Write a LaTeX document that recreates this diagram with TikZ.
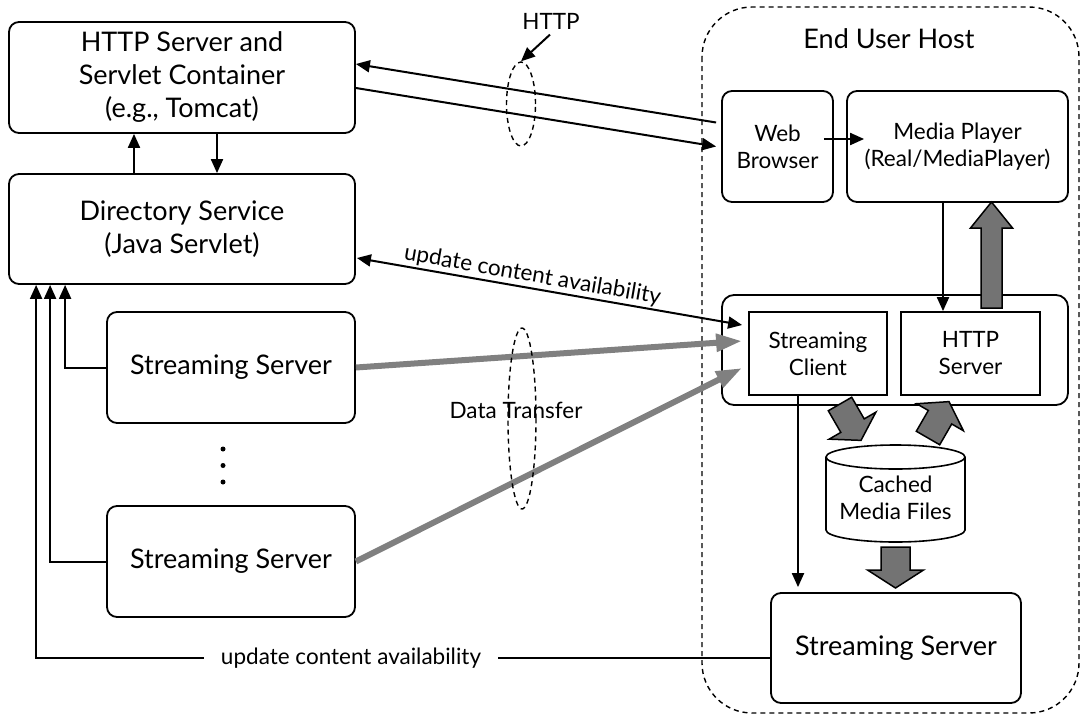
\documentclass[tikz,border=0pt]{standalone}
\usepackage{fontspec}
\setmainfont{Lato}
\usetikzlibrary{arrows.meta,calc,shapes.geometric}
\newcommand\bigf{\fontsize{27}{33}\selectfont}
\newcommand\medf{\fontsize{22.5}{27}\selectfont}
\newcommand\blkarrow[6]{\begin{scope}[shift={#1},rotate=#2]
\draw[blockarrow] (0,-#4) -- ({#3-#6},-#4) -- ({#3-#6},-#5) -- (#3,0) -- ({#3-#6},#5) -- ({#3-#6},#4) -- (0,#4) -- cycle;
\end{scope}}
\tikzset{
 box/.style={draw, line width=1.8pt, rounded corners=10pt, align=center, inner sep=0pt},
 sqbox/.style={draw, line width=1.8pt, align=center, inner sep=0pt},
 arr/.style={line width=2pt, -{Triangle[length=14pt,width=12pt]}},
 darr/.style={line width=2pt, {Triangle[length=14pt,width=12pt]}-{Triangle[length=14pt,width=12pt]}},
 gline/.style={line width=6pt, draw=black!50, -{Triangle[length=26pt,width=17pt]}},
 dashedline/.style={line width=1.4pt, dash pattern=on 5pt off 4pt},
 blockarrow/.style={fill=black!55, draw=black, line width=1.5pt, line join=miter},
 dotnode/.style={circle, fill=black, inner sep=0pt, minimum size=5pt},
}
\begin{document}
\begin{tikzpicture}[x=1pt,y=1pt]
\useasboundingbox (0,0) rectangle (1081,-715);
% End user host
\draw[dashedline, rounded corners=50pt] (702,-7) rectangle (1079,-713);
\node[font=\bigf] (euhl) at (889,-39) {End User Host};
% left boxes
\node[box, minimum width=346pt, minimum height=111pt, font=\bigf] (http) at (182,-77.5) {HTTP Server and\\Servlet Container\\(e.g., Tomcat)};
\node[box, minimum width=346pt, minimum height=110pt, font=\bigf] (dir) at (182,-229) {Directory Service\\(Java Servlet)};
\node[box, minimum width=248pt, minimum height=111pt, font=\bigf] (ss1) at (231,-367.5) {Streaming Server};
\node[box, minimum width=248pt, minimum height=111pt, font=\bigf] (ss2) at (231,-561.5) {Streaming Server};
\node[dotnode] (d1) at (223,-449) {};
\node[dotnode] (d2) at (223,-465.5) {};
\node[dotnode] (d3) at (223,-482) {};
% right boxes
\node[box, minimum width=111pt, minimum height=111pt, font=\medf] (wb) at (777.5,-146.5) {Web\\Browser};
\node[box, minimum width=221pt, minimum height=111pt, font=\medf] (mp) at (957.5,-146.5) {Media Player\\(Real/MediaPlayer)};
\node[box, rounded corners=12pt, minimum width=346pt, minimum height=110pt] (cont) at (895,-350) {};
\node[sqbox, minimum width=138pt, minimum height=83pt, font=\medf] (sc) at (818,-353.5) {Streaming\\Client};
\node[sqbox, minimum width=139pt, minimum height=83pt, font=\medf] (hs) at (970.5,-353.5) {HTTP\\Server};
\node[box, minimum width=250pt, minimum height=110pt, font=\bigf] (bss) at (896,-648) {Streaming Server};
% cylinder
\draw[line width=1.6pt, fill=white] (826,-457) -- (826,-530) arc[start angle=180,end angle=360,x radius=69.5pt,y radius=12pt] -- (965,-457) arc[start angle=0,end angle=180,x radius=69.5pt,y radius=12pt] -- cycle;
\draw[line width=1.6pt] (826,-457) arc[start angle=180,end angle=360,x radius=69.5pt,y radius=12pt];
\node[font=\medf, align=center] (cache) at (895.5,-498) {Cached\\Media Files};
% connectors left
\draw[arr] ($(dir.north)+(-48,0)$) -- ($(http.south)+(-48,0)$);
\draw[arr] ($(http.south)+(35,0)$) -- ($(dir.north)+(35,0)$);
\draw[arr] (ss1.west) -| ($(dir.south west)+(57,0)$);
\draw[arr] (ss2.west) -| ($(dir.south west)+(42,0)$);
\draw[arr] ($(bss.west)+(0,-10)$) -| ($(dir.south west)+(28,0)$);
\node[font=\medf, fill=white, inner xsep=17pt, inner ysep=1pt] (upd2) at (351,-658) {update content availability};
% HTTP connectors
\draw[arr] ($(wb.west)+(-5,24)$) -- ($(http.east)+(0,13.5)$);
\draw[arr] ($(http.east)+(0,-10.5)$) -- ($(wb.west)+(-5,0)$);
\node[dashedline, draw, ellipse, minimum width=29pt, minimum height=84pt, inner sep=0pt] (httpell) at (521,-104) {};
\node[font=\medf] (httpl) at (551,-21) {HTTP};
\draw[arr] ($(httpl.south)+(-1,-2)$) -- (httpell.north);
% update content availability (diag)
\draw[darr] ($(dir.east)+(1,-29)$) -- node[sloped, above, pos=0.45, inner sep=1.5pt, font=\medf] (upd1) {update content availability} ($(sc.west)+(-6,28.5)$);
% data transfer
\draw[gline] (ss1.east) -- ($(sc.west)+(-6,12.5)$);
\draw[gline] (ss2.east) -- ($(sc.west)+(-6,-14.5)$);
\node[dashedline, draw, ellipse, minimum width=28pt, minimum height=181pt, inner sep=0pt] (dtell) at (522,-418.5) {};
\node[font=\medf] (dtl) at (516,-410) {Data Transfer};
% end user host connectors
\draw[arr] ($(wb.east)+(-10,7.5)$) -- ($(mp.west)+(18,7.5)$);
\draw[arr] ($(mp.south)+(-14.5,0)$) -- ($(hs.north)+(-27.5,0)$);
\draw[arr] ($(sc.south)+(-20,0)$) -- ($(bss.north)+(-98,5)$);
% block arrows
\blkarrow{(991.5,-308)}{90}{106}{10.5}{21}{26}
\blkarrow{(840,-404)}{-60}{42}{13.5}{27}{17}
\blkarrow{(928,-438)}{60}{42}{13.5}{27}{18}
\blkarrow{(895.5,-547)}{-90}{41}{14.5}{28}{18}
\end{tikzpicture}
\end{document}
